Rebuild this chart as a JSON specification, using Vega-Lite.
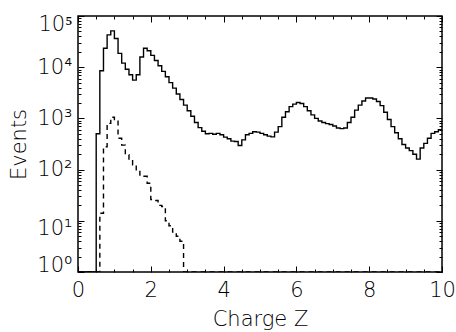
{
  "$schema": "https://vega.github.io/schema/vega-lite/v6.json",
  "width": 364,
  "height": 256,
  "autosize": {"type": "none"},
  "padding": {"left": 78, "top": 16, "right": 14, "bottom": 60},
  "background": "white",
  "config": {
    "view": {"stroke": "black", "strokeWidth": 1.5},
    "font": "DejaVu Sans",
    "axis": {
      "grid": false,
      "domain": false,
      "tickColor": "black",
      "tickWidth": 1,
      "labelColor": "black",
      "titleColor": "black",
      "labelFont": "DejaVu Sans",
      "titleFont": "DejaVu Sans",
      "labelFontWeight": 300,
      "titleFontWeight": 300,
      "labelFontSize": 21,
      "titleFontSize": 21
    }
  },
  "datasets": {
    "hist": [
      {"Z": 0.0, "Events": 0, "Series": "all"},
      {"Z": 0.1, "Events": 0, "Series": "all"},
      {"Z": 0.2, "Events": 0, "Series": "all"},
      {"Z": 0.3, "Events": 0, "Series": "all"},
      {"Z": 0.4, "Events": 0, "Series": "all"},
      {"Z": 0.5, "Events": 500, "Series": "all"},
      {"Z": 0.6, "Events": 8500, "Series": "all"},
      {"Z": 0.7, "Events": 23400, "Series": "all"},
      {"Z": 0.8, "Events": 42700, "Series": "all"},
      {"Z": 0.9, "Events": 51300, "Series": "all"},
      {"Z": 1.0, "Events": 36300, "Series": "all"},
      {"Z": 1.1, "Events": 18600, "Series": "all"},
      {"Z": 1.2, "Events": 12000, "Series": "all"},
      {"Z": 1.3, "Events": 9100, "Series": "all"},
      {"Z": 1.4, "Events": 7100, "Series": "all"},
      {"Z": 1.5, "Events": 5600, "Series": "all"},
      {"Z": 1.6, "Events": 7100, "Series": "all"},
      {"Z": 1.7, "Events": 15800, "Series": "all"},
      {"Z": 1.8, "Events": 23400, "Series": "all"},
      {"Z": 1.9, "Events": 20900, "Series": "all"},
      {"Z": 2.0, "Events": 17000, "Series": "all"},
      {"Z": 2.1, "Events": 13500, "Series": "all"},
      {"Z": 2.2, "Events": 10700, "Series": "all"},
      {"Z": 2.3, "Events": 8300, "Series": "all"},
      {"Z": 2.4, "Events": 6500, "Series": "all"},
      {"Z": 2.5, "Events": 5000, "Series": "all"},
      {"Z": 2.6, "Events": 3900, "Series": "all"},
      {"Z": 2.7, "Events": 3000, "Series": "all"},
      {"Z": 2.8, "Events": 2340, "Series": "all"},
      {"Z": 2.9, "Events": 1820, "Series": "all"},
      {"Z": 3.0, "Events": 1410, "Series": "all"},
      {"Z": 3.1, "Events": 1100, "Series": "all"},
      {"Z": 3.2, "Events": 830, "Series": "all"},
      {"Z": 3.3, "Events": 660, "Series": "all"},
      {"Z": 3.4, "Events": 560, "Series": "all"},
      {"Z": 3.5, "Events": 500, "Series": "all"},
      {"Z": 3.6, "Events": 510, "Series": "all"},
      {"Z": 3.7, "Events": 490, "Series": "all"},
      {"Z": 3.8, "Events": 510, "Series": "all"},
      {"Z": 3.9, "Events": 480, "Series": "all"},
      {"Z": 4.0, "Events": 430, "Series": "all"},
      {"Z": 4.1, "Events": 400, "Series": "all"},
      {"Z": 4.2, "Events": 360, "Series": "all"},
      {"Z": 4.3, "Events": 355, "Series": "all"},
      {"Z": 4.4, "Events": 295, "Series": "all"},
      {"Z": 4.5, "Events": 380, "Series": "all"},
      {"Z": 4.6, "Events": 480, "Series": "all"},
      {"Z": 4.7, "Events": 510, "Series": "all"},
      {"Z": 4.8, "Events": 550, "Series": "all"},
      {"Z": 4.9, "Events": 540, "Series": "all"},
      {"Z": 5.0, "Events": 510, "Series": "all"},
      {"Z": 5.1, "Events": 480, "Series": "all"},
      {"Z": 5.2, "Events": 450, "Series": "all"},
      {"Z": 5.3, "Events": 435, "Series": "all"},
      {"Z": 5.4, "Events": 540, "Series": "all"},
      {"Z": 5.5, "Events": 690, "Series": "all"},
      {"Z": 5.6, "Events": 1050, "Series": "all"},
      {"Z": 5.7, "Events": 1350, "Series": "all"},
      {"Z": 5.8, "Events": 1700, "Series": "all"},
      {"Z": 5.9, "Events": 1900, "Series": "all"},
      {"Z": 6.0, "Events": 2040, "Series": "all"},
      {"Z": 6.1, "Events": 1950, "Series": "all"},
      {"Z": 6.2, "Events": 1700, "Series": "all"},
      {"Z": 6.3, "Events": 1410, "Series": "all"},
      {"Z": 6.4, "Events": 1170, "Series": "all"},
      {"Z": 6.5, "Events": 1000, "Series": "all"},
      {"Z": 6.6, "Events": 890, "Series": "all"},
      {"Z": 6.7, "Events": 830, "Series": "all"},
      {"Z": 6.8, "Events": 790, "Series": "all"},
      {"Z": 6.9, "Events": 760, "Series": "all"},
      {"Z": 7.0, "Events": 710, "Series": "all"},
      {"Z": 7.1, "Events": 650, "Series": "all"},
      {"Z": 7.2, "Events": 630, "Series": "all"},
      {"Z": 7.3, "Events": 650, "Series": "all"},
      {"Z": 7.4, "Events": 830, "Series": "all"},
      {"Z": 7.5, "Events": 1050, "Series": "all"},
      {"Z": 7.6, "Events": 1450, "Series": "all"},
      {"Z": 7.7, "Events": 1820, "Series": "all"},
      {"Z": 7.8, "Events": 2190, "Series": "all"},
      {"Z": 7.9, "Events": 2510, "Series": "all"},
      {"Z": 8.0, "Events": 2510, "Series": "all"},
      {"Z": 8.1, "Events": 2400, "Series": "all"},
      {"Z": 8.2, "Events": 2140, "Series": "all"},
      {"Z": 8.3, "Events": 1780, "Series": "all"},
      {"Z": 8.4, "Events": 1320, "Series": "all"},
      {"Z": 8.5, "Events": 950, "Series": "all"},
      {"Z": 8.6, "Events": 690, "Series": "all"},
      {"Z": 8.7, "Events": 525, "Series": "all"},
      {"Z": 8.8, "Events": 400, "Series": "all"},
      {"Z": 8.9, "Events": 310, "Series": "all"},
      {"Z": 9.0, "Events": 265, "Series": "all"},
      {"Z": 9.1, "Events": 235, "Series": "all"},
      {"Z": 9.2, "Events": 200, "Series": "all"},
      {"Z": 9.3, "Events": 160, "Series": "all"},
      {"Z": 9.4, "Events": 265, "Series": "all"},
      {"Z": 9.5, "Events": 325, "Series": "all"},
      {"Z": 9.6, "Events": 410, "Series": "all"},
      {"Z": 9.7, "Events": 510, "Series": "all"},
      {"Z": 9.8, "Events": 550, "Series": "all"},
      {"Z": 9.9, "Events": 600, "Series": "all"},
      {"Z": 10.0, "Events": 600, "Series": "all"},
      {"Z": 0.0, "Events": 0, "Series": "subset"},
      {"Z": 0.1, "Events": 0, "Series": "subset"},
      {"Z": 0.2, "Events": 0, "Series": "subset"},
      {"Z": 0.3, "Events": 0, "Series": "subset"},
      {"Z": 0.4, "Events": 0, "Series": "subset"},
      {"Z": 0.5, "Events": 0, "Series": "subset"},
      {"Z": 0.6, "Events": 14, "Series": "subset"},
      {"Z": 0.7, "Events": 280, "Series": "subset"},
      {"Z": 0.8, "Events": 800, "Series": "subset"},
      {"Z": 0.9, "Events": 1050, "Series": "subset"},
      {"Z": 1.0, "Events": 950, "Series": "subset"},
      {"Z": 1.1, "Events": 410, "Series": "subset"},
      {"Z": 1.2, "Events": 300, "Series": "subset"},
      {"Z": 1.3, "Events": 195, "Series": "subset"},
      {"Z": 1.4, "Events": 155, "Series": "subset"},
      {"Z": 1.5, "Events": 123, "Series": "subset"},
      {"Z": 1.6, "Events": 95, "Series": "subset"},
      {"Z": 1.7, "Events": 74, "Series": "subset"},
      {"Z": 1.8, "Events": 74, "Series": "subset"},
      {"Z": 1.9, "Events": 54, "Series": "subset"},
      {"Z": 2.0, "Events": 26, "Series": "subset"},
      {"Z": 2.1, "Events": 25, "Series": "subset"},
      {"Z": 2.2, "Events": 20, "Series": "subset"},
      {"Z": 2.3, "Events": 19, "Series": "subset"},
      {"Z": 2.4, "Events": 10, "Series": "subset"},
      {"Z": 2.5, "Events": 8, "Series": "subset"},
      {"Z": 2.6, "Events": 6, "Series": "subset"},
      {"Z": 2.7, "Events": 5, "Series": "subset"},
      {"Z": 2.8, "Events": 4, "Series": "subset"},
      {"Z": 2.9, "Events": 0, "Series": "subset"},
      {"Z": 3.0, "Events": 0, "Series": "subset"},
      {"Z": 4.0, "Events": 0, "Series": "subset"},
      {"Z": 5.0, "Events": 0, "Series": "subset"},
      {"Z": 6.0, "Events": 0, "Series": "subset"},
      {"Z": 7.0, "Events": 0, "Series": "subset"},
      {"Z": 8.0, "Events": 0, "Series": "subset"},
      {"Z": 9.0, "Events": 0, "Series": "subset"},
      {"Z": 10.0, "Events": 0, "Series": "subset"}
    ]
  },
  "data": {"name": "hist"},
  "encoding": {
    "x": {"field": "Z", "type": "quantitative", "scale": {"domain": [0, 10], "nice": false, "zero": false}},
    "y": {"field": "Events", "type": "quantitative", "scale": {"type": "log", "domain": [1, 100000], "nice": false, "clamp": true}}
  },
  "layer": [
    {
      "mark": {"type": "line", "interpolate": "step-after", "color": "black", "strokeWidth": 1.4, "clip": true, "invalid": "show"},
      "encoding": {
        "strokeDash": {"field": "Series", "type": "nominal", "scale": {"domain": ["all", "subset"], "range": [[1, 0], [5, 4]]}, "legend": null},
        "x": {"field": "Z", "type": "quantitative", "axis": {"orient": "bottom", "values": [0, 2, 4, 6, 8, 10], "tickSize": -6, "labelPadding": 13, "title": "Charge Z", "titlePadding": 8, "labelFlush": false}},
        "y": {"field": "Events", "type": "quantitative", "axis": {"orient": "left", "values": [1, 10, 100, 1000, 10000, 100000], "tickSize": -6, "labelPadding": 12, "labelOffset": {"condition": [{"test": "datum.value == 100000", "value": 8}, {"test": "datum.value == 10", "value": 8}, {"test": "datum.value == 1", "value": -7}], "value": 0}, "labelExpr": "'10' + ['⁰','¹','²','³','⁴','⁵'][round(log(datum.value)/LN10)]", "title": "Events", "titlePadding": 7, "labelFlush": false}}
      }
    },
    {
      "mark": {"type": "line", "opacity": 0, "invalid": "show"},
      "encoding": {
        "x": {"field": "Z", "type": "quantitative", "axis": {"orient": "bottom", "values": [0.5, 1, 1.5, 2.5, 3, 3.5, 4.5, 5, 5.5, 6.5, 7, 7.5, 8.5, 9, 9.5], "tickSize": -3, "labels": false, "title": null}},
        "y": {"field": "Events", "type": "quantitative", "axis": {"orient": "left", "values": [2, 3, 4, 5, 6, 7, 8, 9, 20, 30, 40, 50, 60, 70, 80, 90, 200, 300, 400, 500, 600, 700, 800, 900, 2000, 3000, 4000, 5000, 6000, 7000, 8000, 9000, 20000, 30000, 40000, 50000, 60000, 70000, 80000, 90000], "tickSize": -3, "labels": false, "title": null}}
      }
    },
    {
      "mark": {"type": "line", "opacity": 0, "invalid": "show"},
      "encoding": {
        "x": {"field": "Z", "type": "quantitative", "axis": {"orient": "top", "values": [0, 2, 4, 6, 8, 10], "tickSize": -6, "labels": false, "title": null}},
        "y": {"field": "Events", "type": "quantitative", "axis": {"orient": "right", "values": [1, 10, 100, 1000, 10000, 100000], "tickSize": -6, "labels": false, "title": null}}
      }
    },
    {
      "mark": {"type": "line", "opacity": 0, "invalid": "show"},
      "encoding": {
        "x": {"field": "Z", "type": "quantitative", "axis": {"orient": "top", "values": [0.5, 1, 1.5, 2.5, 3, 3.5, 4.5, 5, 5.5, 6.5, 7, 7.5, 8.5, 9, 9.5], "tickSize": -3, "labels": false, "title": null}},
        "y": {"field": "Events", "type": "quantitative", "axis": {"orient": "right", "values": [2, 3, 4, 5, 6, 7, 8, 9, 20, 30, 40, 50, 60, 70, 80, 90, 200, 300, 400, 500, 600, 700, 800, 900, 2000, 3000, 4000, 5000, 6000, 7000, 8000, 9000, 20000, 30000, 40000, 50000, 60000, 70000, 80000, 90000], "tickSize": -3, "labels": false, "title": null}}
      }
    }
  ],
  "resolve": {"axis": {"x": "independent", "y": "independent"}}
}
